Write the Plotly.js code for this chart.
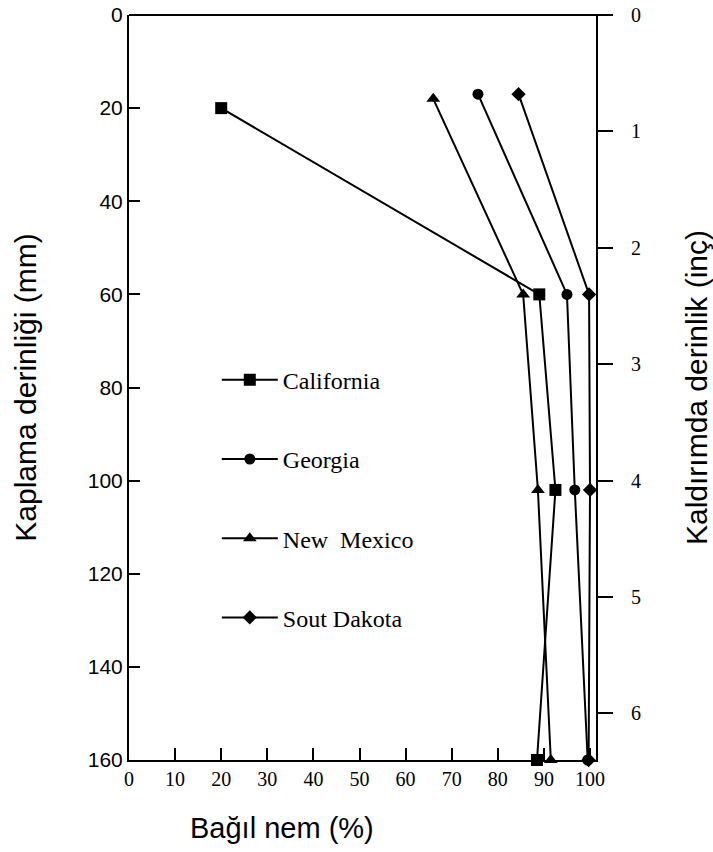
<!DOCTYPE html>
<html>
<head>
<meta charset="utf-8">
<script src="https://cdn.plot.ly/plotly-3.0.1.min.js"></script>
<style>html,body{margin:0;padding:0;background:#fff;}#chart{width:713px;height:852px;}</style>
</head>
<body>
<div id="chart"></div>
<script>
// Data (x = relative humidity %, y = depth mm)
const seriesNames = ["California", "Georgia", "New \u00a0Mexico", "Sout Dakota"];
const caDepth = [20, 60, 102, 160];
const caHum   = [20, 89, 92.5, 88.5];
const gaDepth = [17, 60, 102, 160];
const gaHum   = [75.7, 95, 96.7, 99.5];
const nmDepth = [18, 60, 102, 160];
const nmHum   = [66, 85.5, 88.7, 91.5];
const sdDepth = [17, 60, 102, 160];
const sdHum   = [84.5, 99.8, 100, 99.7];
const xTicks = [0, 10, 20, 30, 40, 50, 60, 70, 80, 90, 100];
const yTicks = [0, 20, 40, 60, 80, 100, 120, 140, 160];
const inchTicks = [0, 1, 2, 3, 4, 5, 6];

const symbols = ["square", "circle", "triangle-up", "diamond"];
const sizes = [12, 11, 12, 11];
const xs = [caHum, gaHum, nmHum, sdHum];
const ys = [caDepth, gaDepth, nmDepth, sdDepth];

const traces = xs.map((x, i) => ({
  type: "scatter", mode: "lines+markers", x: x, y: ys[i], name: seriesNames[i],
  legendgroup: "g" + i, cliponaxis: false,
  line: {color: "#000", width: 2},
  marker: {symbol: symbols[i], size: sizes[i], color: "#000"}
}));
traces.push({type: "scatter", mode: "markers", x: [50], y: [inchTicks[0]], yaxis: "y2",
  showlegend: false, hoverinfo: "skip", marker: {opacity: 0}});

const serif = "Liberation Serif, Times New Roman, serif";
const sans = "Liberation Sans, Arial, sans-serif";

const layout = {
  width: 713, height: 852,
  margin: {l: 129, r: 117, t: 15, b: 92},
  paper_bgcolor: "#fff", plot_bgcolor: "#fff",
  showlegend: true,
  legend: {x: 0.188, y: 0.54, xanchor: "left", yanchor: "top", bgcolor: "rgba(0,0,0,0)",
    font: {family: serif, size: 24, color: "#000"}, traceorder: "grouped", tracegroupgap: 45,
    itemwidth: 56},
  xaxis: {range: [0, 101.3], tickvals: xTicks, ticks: "inside", ticklen: 12, tickwidth: 2,
    tickcolor: "#000", showline: true, linewidth: 2, linecolor: "#000", showgrid: false,
    zeroline: false, tickfont: {family: serif, size: 20, color: "#000"}},
  yaxis: {range: [160, 0], tickvals: yTicks, ticks: "inside", ticklen: 11, tickwidth: 2,
    tickcolor: "#000", showline: true, linewidth: 2, linecolor: "#000", showgrid: false,
    zeroline: false, tickfont: {family: sans, size: 21, color: "#000"},
    title: {text: "Kaplama derinliği (mm)", font: {family: sans, size: 30, color: "#000"}, standoff: 42}},
  yaxis2: {overlaying: "y", side: "right", range: [6.4, 0], tickvals: inchTicks, ticks: "outside",
    ticklen: 15, tickwidth: 2, tickcolor: "#000", showline: true, linewidth: 2, linecolor: "#000",
    showgrid: false, zeroline: false, ticklabelstandoff: 14,
    tickfont: {family: serif, size: 20, color: "#000"},
    title: {text: "Kaldırımda derinlik (inç)", font: {family: sans, size: 30, color: "#000"}, standoff: 48}},
  shapes: [{type: "line", xref: "paper", yref: "paper", x0: 0, x1: 1.036, y0: 1, y1: 1,
    line: {color: "#000", width: 2}}],
  annotations: [{text: "Bağıl nem (%)", xref: "paper", yref: "paper", x: 0.328, y: -0.091,
    xanchor: "center", yanchor: "middle", showarrow: false,
    font: {family: sans, size: 29, color: "#000"}}]
};

Plotly.newPlot("chart", traces, layout, {displayModeBar: false, staticPlot: true});
</script>
</body>
</html>
